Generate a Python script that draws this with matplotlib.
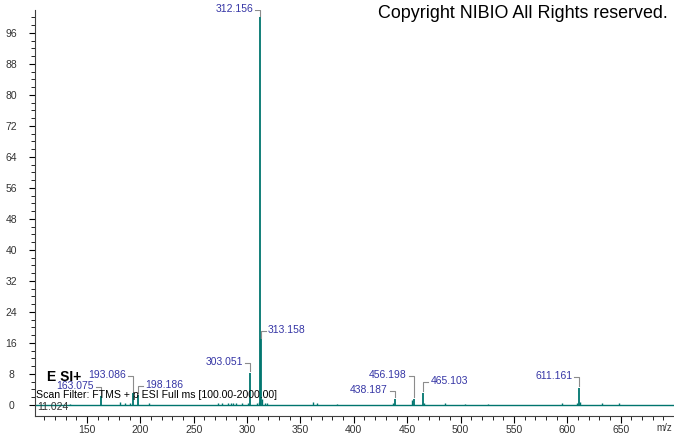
import matplotlib.pyplot as plt
import numpy as np

# labelled peaks (m/z, relative intensity %)
peak_mz = [163.075, 193.086, 198.186, 303.051, 312.156, 313.158,
           438.187, 456.198, 465.103, 611.161]
peak_int = [2.3, 3.0, 2.6, 8.3, 100.0, 17.0, 1.6, 1.6, 3.1, 4.4]
peak_labels = ["163.075", "193.086", "198.186", "303.051", "312.156",
               "313.158", "438.187", "456.198", "465.103", "611.161"]

# small unlabelled peaks
minor_mz = [134.0, 181.0, 186.0, 190.3, 208.0, 273.0, 276.5, 282.0, 284.5,
            287.0, 290.0, 295.0, 301.0, 309.0, 311.1, 314.16, 316.8, 319.0,
            362.0, 365.6, 384.0, 436.5, 454.2, 466.1, 485.0, 504.0, 526.0,
            595.0, 609.0, 612.2, 632.7, 648.6]
minor_int = [0.3, 0.8, 0.5, 0.4, 0.4, 0.4, 0.5, 0.6, 0.4,
             0.5, 0.4, 0.5, 0.6, 0.6, 0.8, 1.5, 0.6, 0.4,
             0.8, 0.6, 0.3, 0.5, 1.3, 0.6, 0.4, 0.3, 0.3,
             0.4, 0.4, 0.9, 0.5, 0.4]

# label placement: side and text height above peak top (pixels)
label_side = ["L", "L", "R", "L", "L", "R", "L", "L", "R", "L"]
label_dy = [10, 18, 10, 11, 8.5, 9, 9, 24, 12, 12]

teal = "#00756e"
blue = "#3535a5"
grey = "#8c8c8c"
plt.rcParams['font.family'] = ['Liberation Sans', 'DejaVu Sans']

W, H = 674, 434
fig = plt.figure(figsize=(W / 100, H / 100), dpi=100)
ax_l, ax_b, ax_w, ax_h = 34.7, 18, 674 - 34.7, 406
ax = fig.add_axes([ax_l / W, ax_b / H, ax_w / W, ax_h / H])

xmin, xmax = 101, 700
ymin, ymax = -2.84, 101.9
ax.set_xlim(xmin, xmax)
ax.set_ylim(ymin, ymax)
sx = (xmax - xmin) / ax_w
sy = (ymax - ymin) / ax_h

ax.axhline(0, color=teal, lw=1)
ax.vlines(minor_mz, 0, minor_int, color=teal, lw=1)
ax.vlines(peak_mz, 0, peak_int, color=teal, lw=1.3)

for mz, h, lab, side, dy in zip(peak_mz, peak_int, peak_labels, label_side, label_dy):
    sgn = -1 if side == "L" else 1
    ax.annotate(lab, xy=(mz, h), xytext=(sgn * 7, dy), textcoords='offset pixels',
                ha='right' if side == "L" else 'left', va='center',
                color=blue, fontsize=7.5)
    yb = h + (dy - 1) * sy
    ax.plot([mz + sgn * 5 * sx, mz, mz], [yb, yb, h + 1.5 * sy], color=grey, lw=0.8)

# axes styling
for s in ['top', 'right']:
    ax.spines[s].set_visible(False)
ax.spines['left'].set_color('#404040')
ax.spines['bottom'].set_color('#404040')
ax.set_yticks(np.arange(0, 97, 8))
ax.set_yticks(np.arange(0, 101, 2), minor=True)
ax.set_xticks(np.arange(150, 651, 50))
ax.set_xticks(np.arange(110, 700, 10), minor=True)
ax.tick_params(axis='y', which='major', length=4, pad=13, labelsize=7.5, labelcolor='#333333')
ax.tick_params(axis='x', which='major', length=5, pad=1.5, labelsize=7.5, labelcolor='#333333')
ax.tick_params(which='minor', length=3)
for t in ax.get_yticklabels():
    t.set_ha('center')

fig.text(668 / W, 1 - 14 / H, "Copyright NIBIO All Rights reserved.",
         ha='right', va='center', fontsize=12.9, color='black')
fig.text(47 / W, 1 - 377 / H, "E SI+", ha='left', va='center', fontsize=10,
         fontweight='semibold', color='black')
fig.text(36 / W, 1 - 395 / H, "Scan Filter: FTMS + p ESI Full ms [100.00-2000.00]",
         ha='left', va='center', fontsize=7.6, color='black')
fig.text(37 / W, 1 - 407 / H, "11.024", ha='left', va='center', fontsize=7.5, color='#333333')
fig.text(672 / W, 1 - 428 / H, "m/z", ha='right', va='center', fontsize=7, color='#333333')

fig.savefig("out.png", dpi=100)
